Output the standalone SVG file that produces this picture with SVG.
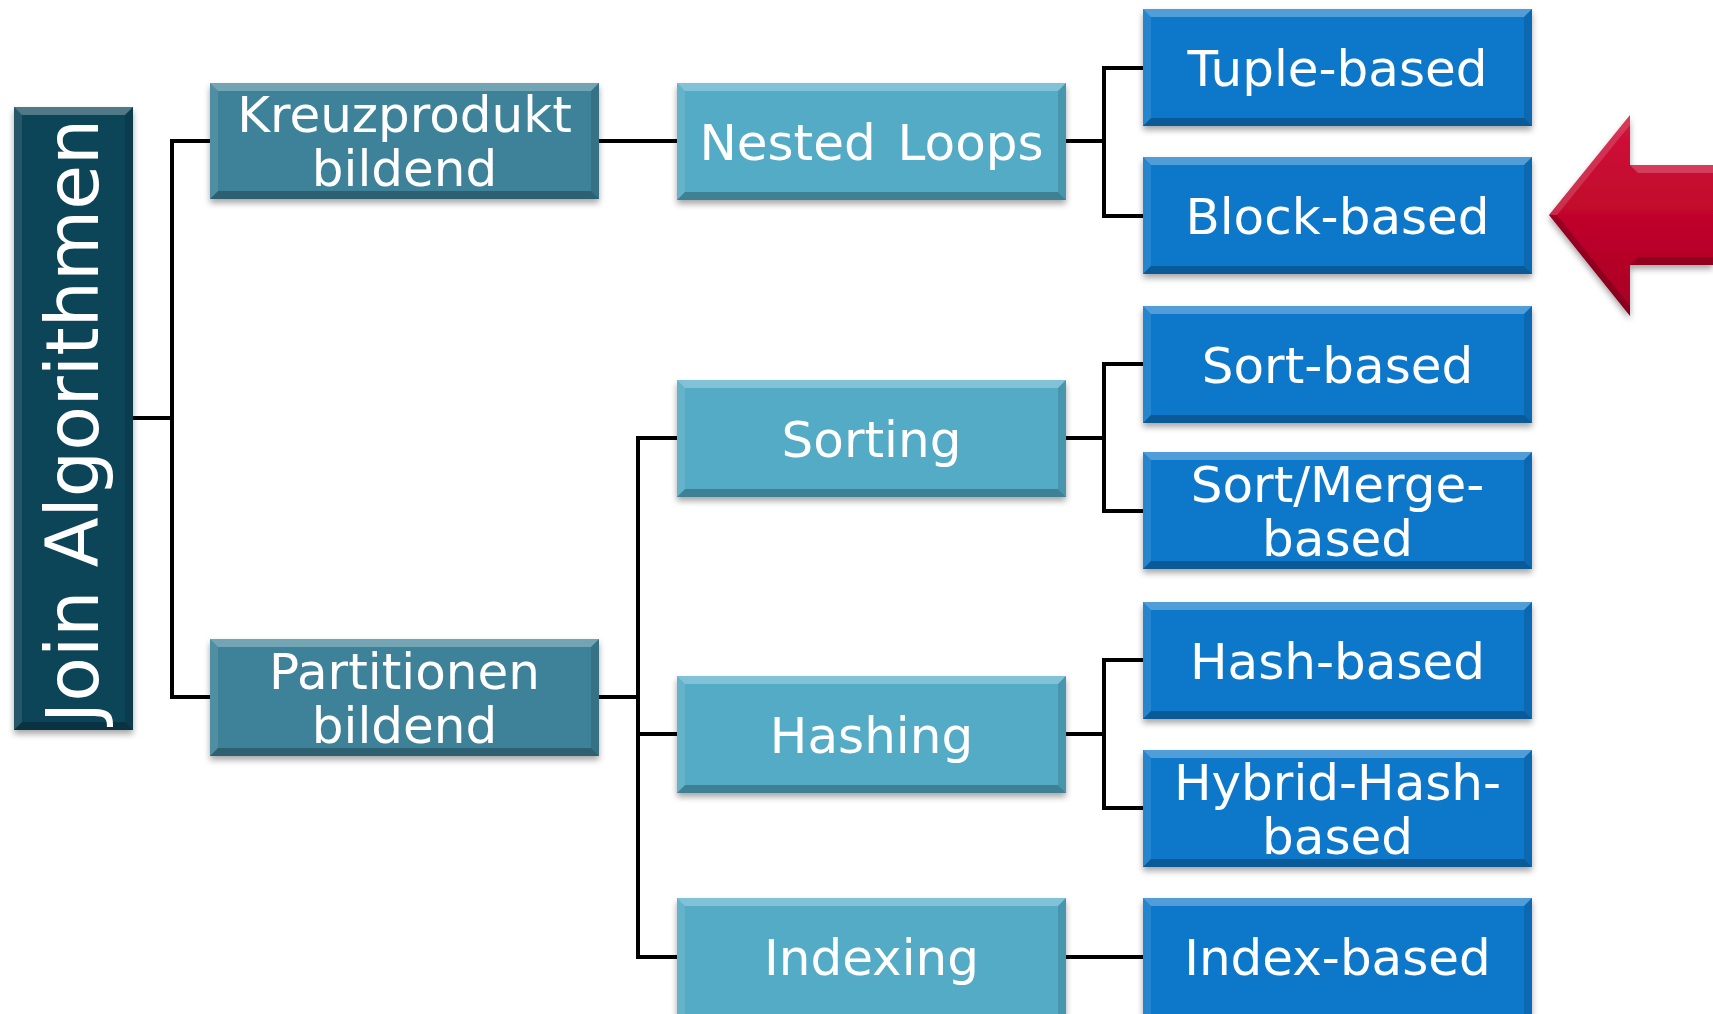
<svg xmlns="http://www.w3.org/2000/svg" width="1713" height="1014" viewBox="0 0 1713 1014">
<defs>
<filter id="sh" x="-10%" y="-10%" width="120%" height="130%">
<feDropShadow dx="0" dy="4" stdDeviation="3" flood-color="#000" flood-opacity="0.35"/>
</filter>
<linearGradient id="redg" x1="0" y1="0" x2="0" y2="1">
<stop offset="0" stop-color="#D2143A"/>
<stop offset="0.5" stop-color="#C0062B"/>
<stop offset="1" stop-color="#A80424"/>
</linearGradient>
</defs>
<style>
.c0{fill:#0D4558}
.c1{fill:#3E8298}
.c2{fill:#52ABC6}
.c3{fill:#0778CA}
.bt{fill:#fff;fill-opacity:0.28}
.bb{fill:#000;fill-opacity:0.25}
.bl{fill:#fff;fill-opacity:0.1}
.br{fill:#000;fill-opacity:0.12}
.lbl{font-family:"DejaVu Sans","Verdana",sans-serif;font-size:50px;fill:#fff;text-anchor:middle}
.conn{fill:none;stroke:#000;stroke-width:4;stroke-linejoin:miter;stroke-linecap:square}
</style>

<g id="connectors">
<path class="conn" d="M133,418 H172"/>
<path class="conn" d="M210,141 H172 V697 H210"/>
<path class="conn" d="M599,141 H677"/>
<path class="conn" d="M599,697 H638"/>
<path class="conn" d="M677,438 H638 V957 H677"/>
<path class="conn" d="M638,734 H677"/>
<path class="conn" d="M1066,141 H1104"/>
<path class="conn" d="M1143,68 H1104 V216 H1143"/>
<path class="conn" d="M1066,438 H1104"/>
<path class="conn" d="M1143,364 H1104 V511 H1143"/>
<path class="conn" d="M1066,734 H1104"/>
<path class="conn" d="M1143,660 H1104 V808 H1143"/>
<path class="conn" d="M1066,957 H1143"/>
</g>

<g id="join">
<rect class="c0" x="14" y="107" width="119" height="623" filter="url(#sh)"/>
<polygon class="bt" points="14,107 133,107 125,115 22,115"/>
<polygon class="bb" points="14,730 133,730 125,722 22,722"/>
<polygon class="bl" points="14,107 22,115 22,722 14,730"/>
<polygon class="br" points="133,107 125,115 125,722 133,730"/>
<text class="lbl" style="font-size:73px" transform="translate(98,421) rotate(-90)">Join Algorithmen</text>
</g>

<g id="kreuz">
<rect class="c1" x="210" y="83" width="389" height="116" filter="url(#sh)"/>
<polygon class="bt" points="210,83 599,83 591,91 218,91"/>
<polygon class="bb" points="210,199 599,199 591,191 218,191"/>
<polygon class="bl" points="210,83 218,91 218,191 210,199"/>
<polygon class="br" points="599,83 591,91 591,191 599,199"/>
<text class="lbl" x="404.5" y="132">Kreuzprodukt</text>
<text class="lbl" x="404.5" y="186">bildend</text>
</g>

<g id="partitionen">
<rect class="c1" x="210" y="639" width="389" height="117" filter="url(#sh)"/>
<polygon class="bt" points="210,639 599,639 591,647 218,647"/>
<polygon class="bb" points="210,756 599,756 591,748 218,748"/>
<polygon class="bl" points="210,639 218,647 218,748 210,756"/>
<polygon class="br" points="599,639 591,647 591,748 599,756"/>
<text class="lbl" x="404.5" y="688.5">Partitionen</text>
<text class="lbl" x="404.5" y="742.5">bildend</text>
</g>

<g id="nested">
<rect class="c2" x="677" y="83" width="389" height="117" filter="url(#sh)"/>
<polygon class="bt" points="677,83 1066,83 1058,91 685,91"/>
<polygon class="bb" points="677,200 1066,200 1058,192 685,192"/>
<polygon class="bl" points="677,83 685,91 685,192 677,200"/>
<polygon class="br" points="1066,83 1058,91 1058,192 1066,200"/>
<text class="lbl" x="871.5" y="160" word-spacing="6">Nested Loops</text>
</g>

<g id="sorting">
<rect class="c2" x="677" y="380" width="389" height="117" filter="url(#sh)"/>
<polygon class="bt" points="677,380 1066,380 1058,388 685,388"/>
<polygon class="bb" points="677,497 1066,497 1058,489 685,489"/>
<polygon class="bl" points="677,380 685,388 685,489 677,497"/>
<polygon class="br" points="1066,380 1058,388 1058,489 1066,497"/>
<text class="lbl" x="871.5" y="457">Sorting</text>
</g>

<g id="hashing">
<rect class="c2" x="677" y="676" width="389" height="117" filter="url(#sh)"/>
<polygon class="bt" points="677,676 1066,676 1058,684 685,684"/>
<polygon class="bb" points="677,793 1066,793 1058,785 685,785"/>
<polygon class="bl" points="677,676 685,684 685,785 677,793"/>
<polygon class="br" points="1066,676 1058,684 1058,785 1066,793"/>
<text class="lbl" x="871.5" y="753">Hashing</text>
</g>

<g id="indexing">
<rect class="c2" x="677" y="898" width="389" height="117" filter="url(#sh)"/>
<polygon class="bt" points="677,898 1066,898 1058,906 685,906"/>
<polygon class="bl" points="677,898 685,906 685,1015 677,1015"/>
<polygon class="br" points="1066,898 1058,906 1058,1015 1066,1015"/>
<text class="lbl" x="871.5" y="975">Indexing</text>
</g>

<g id="tuple">
<rect class="c3" x="1143" y="9" width="389" height="117" filter="url(#sh)"/>
<polygon class="bt" points="1143,9 1532,9 1524,17 1151,17"/>
<polygon class="bb" points="1143,126 1532,126 1524,118 1151,118"/>
<polygon class="bl" points="1143,9 1151,17 1151,118 1143,126"/>
<polygon class="br" points="1532,9 1524,17 1524,118 1532,126"/>
<text class="lbl" x="1337.5" y="86">Tuple-based</text>
</g>

<g id="block">
<rect class="c3" x="1143" y="157" width="389" height="117" filter="url(#sh)"/>
<polygon class="bt" points="1143,157 1532,157 1524,165 1151,165"/>
<polygon class="bb" points="1143,274 1532,274 1524,266 1151,266"/>
<polygon class="bl" points="1143,157 1151,165 1151,266 1143,274"/>
<polygon class="br" points="1532,157 1524,165 1524,266 1532,274"/>
<text class="lbl" x="1337.5" y="234">Block-based</text>
</g>

<g id="sortbased">
<rect class="c3" x="1143" y="306" width="389" height="117" filter="url(#sh)"/>
<polygon class="bt" points="1143,306 1532,306 1524,314 1151,314"/>
<polygon class="bb" points="1143,423 1532,423 1524,415 1151,415"/>
<polygon class="bl" points="1143,306 1151,314 1151,415 1143,423"/>
<polygon class="br" points="1532,306 1524,314 1524,415 1532,423"/>
<text class="lbl" x="1337.5" y="383">Sort-based</text>
</g>

<g id="sortmerge">
<rect class="c3" x="1143" y="452" width="389" height="117" filter="url(#sh)"/>
<polygon class="bt" points="1143,452 1532,452 1524,460 1151,460"/>
<polygon class="bb" points="1143,569 1532,569 1524,561 1151,561"/>
<polygon class="bl" points="1143,452 1151,460 1151,561 1143,569"/>
<polygon class="br" points="1532,452 1524,460 1524,561 1532,569"/>
<text class="lbl" x="1337.5" y="501.5">Sort/Merge-</text>
<text class="lbl" x="1337.5" y="555.5">based</text>
</g>

<g id="hashbased">
<rect class="c3" x="1143" y="602" width="389" height="117" filter="url(#sh)"/>
<polygon class="bt" points="1143,602 1532,602 1524,610 1151,610"/>
<polygon class="bb" points="1143,719 1532,719 1524,711 1151,711"/>
<polygon class="bl" points="1143,602 1151,610 1151,711 1143,719"/>
<polygon class="br" points="1532,602 1524,610 1524,711 1532,719"/>
<text class="lbl" x="1337.5" y="679">Hash-based</text>
</g>

<g id="hybrid">
<rect class="c3" x="1143" y="750" width="389" height="117" filter="url(#sh)"/>
<polygon class="bt" points="1143,750 1532,750 1524,758 1151,758"/>
<polygon class="bb" points="1143,867 1532,867 1524,859 1151,859"/>
<polygon class="bl" points="1143,750 1151,758 1151,859 1143,867"/>
<polygon class="br" points="1532,750 1524,758 1524,859 1532,867"/>
<text class="lbl" x="1337.5" y="799.5">Hybrid-Hash-</text>
<text class="lbl" x="1337.5" y="853.5">based</text>
</g>

<g id="indexbased">
<rect class="c3" x="1143" y="898" width="389" height="117" filter="url(#sh)"/>
<polygon class="bt" points="1143,898 1532,898 1524,906 1151,906"/>
<polygon class="bl" points="1143,898 1151,906 1151,1015 1143,1015"/>
<polygon class="br" points="1532,898 1524,906 1524,1015 1532,1015"/>
<text class="lbl" x="1337.5" y="975">Index-based</text>
</g>

<g id="arrow">
<polygon points="1549,215 1630,115 1630,165 1713,165 1713,265 1630,265 1630,316" fill="url(#redg)" filter="url(#sh)"/>
<polygon points="1549,215 1630,115 1630,125 1557,215" fill="#fff" fill-opacity="0.15"/>
<polygon points="1630,165 1713,165 1713,173 1638,173" fill="#fff" fill-opacity="0.2"/>
<polygon points="1630,265 1713,265 1713,257 1638,257" fill="#000" fill-opacity="0.2"/>
<polygon points="1549,215 1630,316 1630,306 1557,215" fill="#000" fill-opacity="0.2"/>
</g>
</svg>
